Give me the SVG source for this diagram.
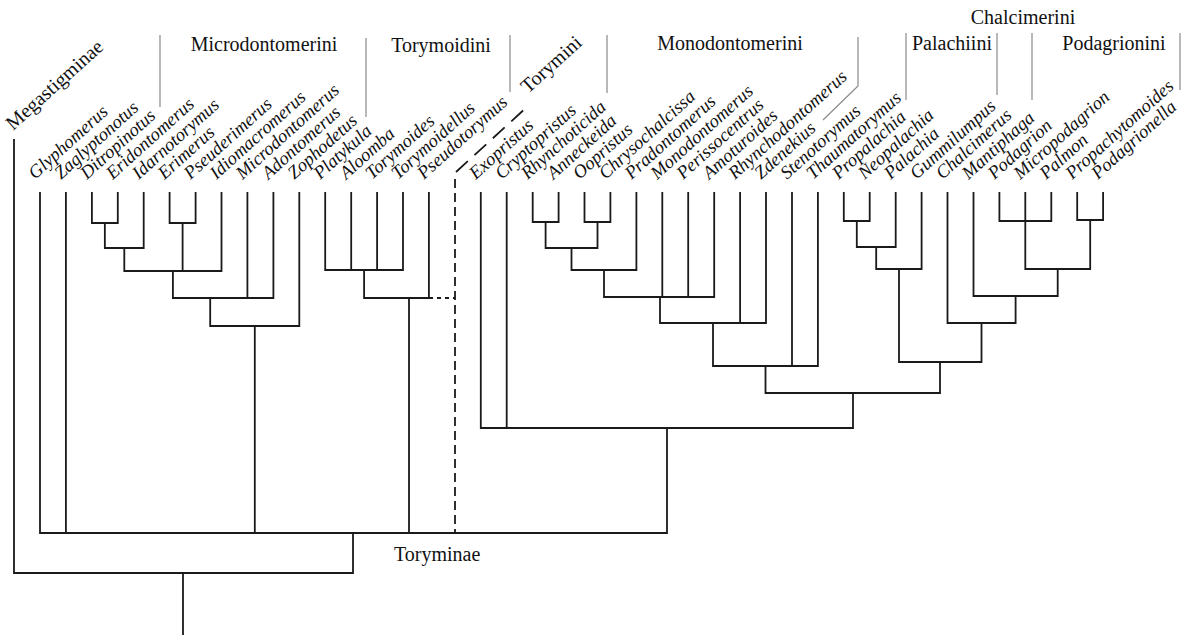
<svg xmlns="http://www.w3.org/2000/svg" width="1187" height="640" viewBox="0 0 1187 640">
<style>
.g{font-family:"Liberation Serif","Times New Roman",serif;font-style:italic;font-size:18.5px;fill:#111}
.h{font-family:"Liberation Serif","Times New Roman",serif;font-size:20px;fill:#111}
.t{fill:none;stroke:#1a1a1a;stroke-width:1.8;stroke-linecap:square}
.d{fill:none;stroke:#1a1a1a;stroke-width:1.8}
.s{fill:none;stroke:#8a8a8a;stroke-width:1.2}
</style>
<rect width="1187" height="640" fill="#fff"/>
<g id="connectors">
<path class="t" d="M14 140V573M40 193V533M65.9 193V533
M91.9 193V223M117.8 193V223M91.9 223H117.8M104.85 223V248M143.7 193V248M104.85 248H143.7M124.3 248V271
M169.6 193V223M195.6 193V223M169.6 223H195.6M182.6 223V271M221.5 193V271M124.3 271H221.5M172.9 271V298
M247.4 193V298M273.4 193V298M172.9 298H273.4M210.2 298V326M299.3 193V326M210.2 326H299.3M254.8 326V533
M325.2 193V270M351.2 193V270M377.1 193V270M403 193V270M325.2 270H403M364.1 270V298M428.9 193V298M364.1 298H428.9M409 298V533
M480.8 193V428M506.7 193V428
M532.7 193V222M558.6 193V222M532.7 222H558.6M545.6 222V248M584.5 193V222M610.4 193V222M584.5 222H610.4M597.5 222V248M545.6 248H597.5M571.5 248V270
M636.4 193V270M571.5 270H636.4M604 270V297M662.3 193V297M688.2 193V297M714.2 193V297M604 297H714.2M660 297V323
M740.1 193V323M766 193V323M660 323H766M713 323V366M792 193V366M817.9 193V366M713 366H817.9M765.5 366V393
M843.8 193V221M869.7 193V221M843.8 221H869.7M856.8 221V247M895.7 193V247M856.8 247H895.7M876.2 247V269M921.6 193V269M876.2 269H921.6M899 269V362
M999.4 193V221M1025.3 193V269M1051.3 193V221M999.4 221H1051.3M1077.2 193V220M1103.1 193V220M1077.2 220H1103.1M1090.2 220V269M1025.3 269H1090.2M1057.7 269V296
M973.5 193V296M973.5 296H1057.7M1015.6 296V323M947.5 193V323M947.5 323H1015.6M981.5 323V362M899 362H981.5M940 362V393
M765.5 393H940M853 393V428M480.8 428H853M667 428V533
M40 533H667M353 533V573M14 573H353M183 573V634"/>
<path class="d" stroke-dasharray="4 4" d="M429 298H455"/>
<path class="d" stroke-dasharray="9 5" d="M455 179V533"/>
<path class="d" stroke-dasharray="16 9" d="M456 172L528 106"/>
</g>
<g id="separators">
<path class="s" d="M160 35V107M366 38V117M510 35V92M607 35V93M858 37V86L823 120M906 33V100M997 33V95M1032 33V100M1180 33V90"/>
</g>
<g id="headers">
<g id="h-microdontomerini"><text class="h" x="264" y="51" text-anchor="middle">Microdontomerini</text></g>
<g id="h-torymoidini"><text class="h" x="441" y="52" text-anchor="middle">Torymoidini</text></g>
<g id="h-monodontomerini"><text class="h" x="730" y="50" text-anchor="middle">Monodontomerini</text></g>
<g id="h-palachiini"><text class="h" x="952" y="50" text-anchor="middle">Palachiini</text></g>
<g id="h-podagrionini"><text class="h" x="1114" y="50" text-anchor="middle">Podagrionini</text></g>
<g id="h-chalcimerini"><text class="h" x="1023" y="24" text-anchor="middle">Chalcimerini</text></g>
<g id="h-torymini"><text class="h" transform="translate(528,94) rotate(-42)">Torymini</text></g>
<g id="h-megastigminae"><text class="h" transform="translate(13,131) rotate(-42)">Megastigminae</text></g>
<g id="h-toryminae"><text class="h" x="394" y="561">Toryminae</text></g>
</g>
<g id="taxa">
<g id="n1"><text class="g" transform="translate(35,180) rotate(-42)">Glyphomerus</text></g>
<g id="n2"><text class="g" transform="translate(60.9,180) rotate(-42)">Zaglyptonotus</text></g>
<g id="n3"><text class="g" transform="translate(86.9,180) rotate(-42)">Ditropinotus</text></g>
<g id="n4"><text class="g" transform="translate(112.8,180) rotate(-42)">Eridontomerus</text></g>
<g id="n5"><text class="g" transform="translate(138.7,180) rotate(-42)">Idarnotorymus</text></g>
<g id="n6"><text class="g" transform="translate(164.6,180) rotate(-42)">Erimerus</text></g>
<g id="n7"><text class="g" transform="translate(190.6,180) rotate(-42)">Pseuderimerus</text></g>
<g id="n8"><text class="g" transform="translate(216.5,180) rotate(-42)">Idiomacromerus</text></g>
<g id="n9"><text class="g" transform="translate(242.4,180) rotate(-42)">Microdontomerus</text></g>
<g id="n10"><text class="g" transform="translate(268.4,180) rotate(-42)">Adontomerus</text></g>
<g id="n11"><text class="g" transform="translate(294.3,180) rotate(-42)">Zophodetus</text></g>
<g id="n12"><text class="g" transform="translate(320.2,180) rotate(-42)">Platykula</text></g>
<g id="n13"><text class="g" transform="translate(346.2,180) rotate(-42)">Aloomba</text></g>
<g id="n14"><text class="g" transform="translate(372.1,180) rotate(-42)">Torymoides</text></g>
<g id="n15"><text class="g" transform="translate(398,180) rotate(-42)">Torymoidellus</text></g>
<g id="n16"><text class="g" transform="translate(423.9,180) rotate(-42)">Pseudotorymus</text></g>
<g id="n18"><text class="g" transform="translate(475.8,180) rotate(-42)">Exopristus</text></g>
<g id="n19"><text class="g" transform="translate(501.7,180) rotate(-42)">Cryptopristus</text></g>
<g id="n20"><text class="g" transform="translate(527.7,180) rotate(-42)">Rhynchoticida</text></g>
<g id="n21"><text class="g" transform="translate(553.6,180) rotate(-42)">Anneckeida</text></g>
<g id="n22"><text class="g" transform="translate(579.5,180) rotate(-42)">Oopristus</text></g>
<g id="n23"><text class="g" transform="translate(605.4,180) rotate(-42)">Chrysochalcissa</text></g>
<g id="n24"><text class="g" transform="translate(631.4,180) rotate(-42)">Pradontomerus</text></g>
<g id="n25"><text class="g" transform="translate(657.3,180) rotate(-42)">Monodontomerus</text></g>
<g id="n26"><text class="g" transform="translate(683.2,180) rotate(-42)">Perissocentrus</text></g>
<g id="n27"><text class="g" transform="translate(709.2,180) rotate(-42)">Amoturoides</text></g>
<g id="n28"><text class="g" transform="translate(735.1,180) rotate(-42)">Rhynchodontomerus</text></g>
<g id="n29"><text class="g" transform="translate(761,180) rotate(-42)">Zdenekius</text></g>
<g id="n30"><text class="g" transform="translate(787,180) rotate(-42)">Stenotorymus</text></g>
<g id="n31"><text class="g" transform="translate(812.9,180) rotate(-42)">Thaumatorymus</text></g>
<g id="n32"><text class="g" transform="translate(838.8,180) rotate(-42)">Propalachia</text></g>
<g id="n33"><text class="g" transform="translate(864.7,180) rotate(-42)">Neopalachia</text></g>
<g id="n34"><text class="g" transform="translate(890.7,180) rotate(-42)">Palachia</text></g>
<g id="n35"><text class="g" transform="translate(916.6,180) rotate(-42)">Gummilumpus</text></g>
<g id="n36"><text class="g" transform="translate(942.5,180) rotate(-42)">Chalcimerus</text></g>
<g id="n37"><text class="g" transform="translate(968.5,180) rotate(-42)">Mantiphaga</text></g>
<g id="n38"><text class="g" transform="translate(994.4,180) rotate(-42)">Podagrion</text></g>
<g id="n39"><text class="g" transform="translate(1020.3,180) rotate(-42)">Micropodagrion</text></g>
<g id="n40"><text class="g" transform="translate(1046.3,180) rotate(-42)">Palmon</text></g>
<g id="n41"><text class="g" transform="translate(1072.2,180) rotate(-42)">Propachytomoides</text></g>
<g id="n42"><text class="g" transform="translate(1098.1,180) rotate(-42)">Podagrionella</text></g>
</g>
</svg>
